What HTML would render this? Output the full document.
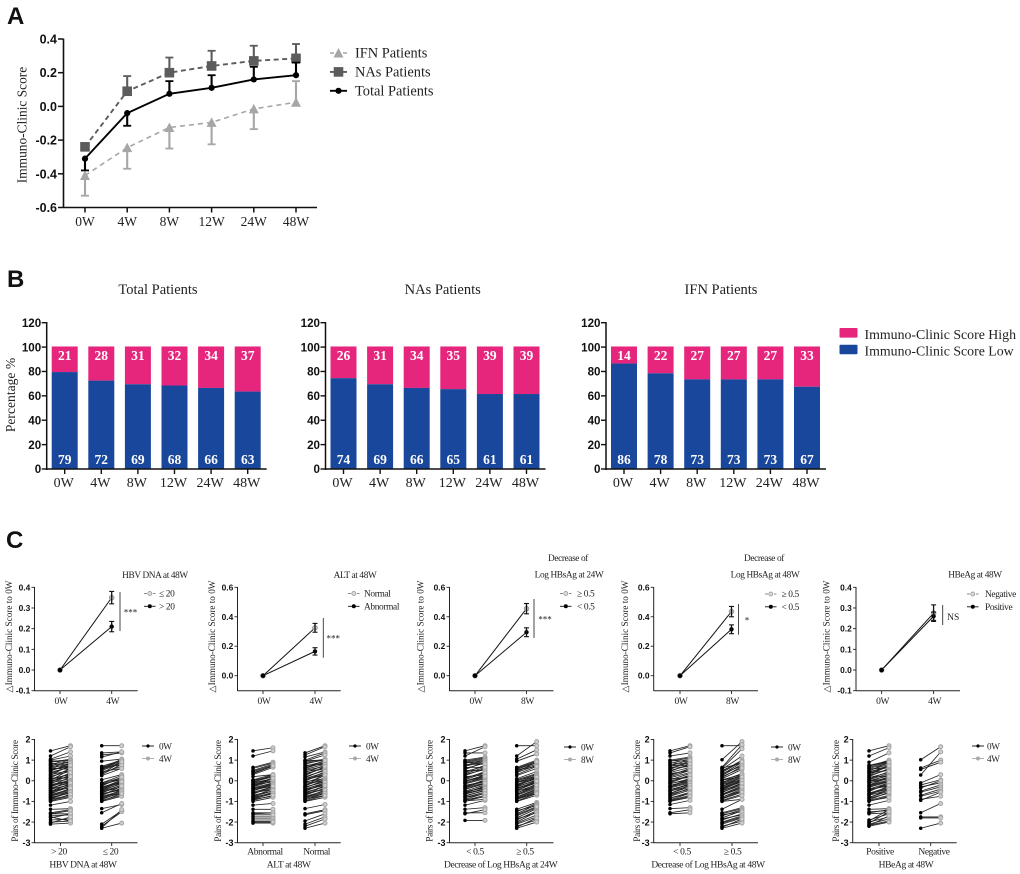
<!DOCTYPE html>
<html lang="en">
<head>
<meta charset="utf-8">
<title>Immuno-Clinic Score figure</title>
<style>
html,body{margin:0;padding:0;background:#fff;width:1020px;height:874px;overflow:hidden}
svg{display:block;filter:blur(0.35px)}
text{font-family:"Liberation Serif",serif;fill:#222}
.tick{font-family:"Liberation Sans",sans-serif;font-weight:bold;fill:#111}
.letter{font-family:"Liberation Sans",sans-serif;font-weight:bold;font-size:24px;fill:#111}
.tight{letter-spacing:-0.37px}
</style>
</head>
<body>
<svg id="fig" xmlns="http://www.w3.org/2000/svg" width="1020" height="874" viewBox="0 0 1020 874">
<text class="letter" x="7" y="24">A</text>
<text class="letter" x="7" y="287">B</text>
<text class="letter" x="6" y="548">C</text>
</svg>
<script>
// ---------- Panel A data ----------
const aWeeks = ['0W','4W','8W','12W','24W','48W'];
const aTicks = [0.4,0.2,0.0,-0.2,-0.4,-0.6];
const ifnMean = [-0.41,-0.245,-0.125,-0.095,-0.015,0.025];
const ifnLow = [-0.53,-0.37,-0.25,-0.225,-0.135,0.025];
const ifnHigh = [-0.41,-0.245,-0.125,-0.095,-0.015,0.15];
const nasMean = [-0.24,0.09,0.2,0.24,0.27,0.285];
const nasLow = [-0.24,0.09,0.2,0.24,0.27,0.285];
const nasHigh = [-0.24,0.18,0.29,0.33,0.36,0.37];
const totalMean = [-0.31,-0.04,0.075,0.11,0.16,0.185];
const totalLow = [-0.38,-0.115,0.075,0.11,0.16,0.185];
const totalHigh = [-0.31,-0.04,0.15,0.185,0.235,0.26];

// ---------- Panel B data ----------
const bWeeks = ['0W','4W','8W','12W','24W','48W'];
const bTicks = [120,100,80,60,40,20,0];
const totalLowPct = [79,72,69,68,66,63];
const totalHighPct = [21,28,31,32,34,37];
const nasLowPct = [74,69,66,65,61,61];
const nasHighPct = [26,31,34,35,39,39];
const ifnLowPct = [86,78,73,73,73,67];
const ifnHighPct = [14,22,27,27,27,33];

// ---------- Panel C change-score data ----------
const c1Ticks = [0.4,0.3,0.2,0.1,0.0,-0.1];
const c2Ticks = [0.6,0.4,0.2,0.0];
const c1Upper = [0,0.35];  const c1UpperErr = [0,0.03];
const c1Lower = [0,0.21];  const c1LowerErr = [0,0.025];
const c2Upper = [0,0.325]; const c2UpperErr = [0,0.03];
const c2Lower = [0,0.165]; const c2LowerErr = [0,0.025];
const c3Upper = [0,0.455]; const c3UpperErr = [0,0.035];
const c3Lower = [0,0.295]; const c3LowerErr = [0,0.03];
const c4Upper = [0,0.435]; const c4UpperErr = [0,0.035];
const c4Lower = [0,0.315]; const c4LowerErr = [0,0.03];
const c5Upper = [0,0.275]; const c5UpperErr = [0,0.04];
const c5Lower = [0,0.26];  const c5LowerErr = [0,0.02];

// ---------- Panel C paired data: [before, after] ----------
const pairTicks = [2,1,0,-1,-2,-3];
const p1a = [[1.45,1.7],[1.2,1.65],[1.05,1.4],[1,1.2],[.95,1],[.9,1.05],[.85,.75],[.8,1],[.72,.7],[.65,.95],[.6,.85],[.55,.7],[.5,.75],[.42,.65],[.35,.7],[.3,.5],[.22,.45],[.15,.6],[.1,.3],[.05,.35],[0,.2],[-.05,.25],[-.1,.1],[-.15,.3],[-.2,-.05],[-.25,.05],[-.3,.05],[-.35,-.1],[-.4,-.2],[-.45,.1],[-.5,-.15],[-.55,-.25],[-.6,-.3],[-.65,-.2],[-.7,-.45],[-.75,-.5],[-.8,-.6],[-.85,-.5],[-.9,-.7],[-.95,-.75],[-1,-.8],[-1.18,-1],[-1.38,-1.35],[-1.55,-1.4],[-1.6,-1.45],[-1.7,-1.65],[-1.8,-1.6],[-1.9,-1.85],[-2,-1.95],[-2.1,-2.05]];
const p1aMore = [[.98,.85],[.75,.9],[.62,.55],[.47,.85],[.27,.75],[.12,.15],[.02,.55],[-.08,.4],[-.18,.0],[-.28,.2],[-.38,-.05],[-.48,-.35],[-.58,-.1],[-.68,-.4],[-.78,-.35],[-.88,-.55],[-.98,-.65],[-1.6,-1.6],[-1.75,-1.95],[-2.05,-1.75]];
const p1b = [[1.7,1.7],[1.35,1.4],[1.25,1.35],[1.15,1.4],[.95,1.05],[.7,1],[.65,.95],[.6,1.05],[.55,.9],[.5,.85],[.4,.7],[.3,.8],[.25,.6],[.05,.3],[-.1,.25],[-.15,.05],[-.2,.1],[-.3,-.05],[-.35,.05],[-.4,0],[-.45,-.15],[-.5,-.1],[-.55,-.3],[-.6,-.2],[-.65,-.4],[-.7,-.35],[-.75,-.5],[-.8,-.55],[-.85,-.6],[-.95,-.7],[-1,-.75],[-1.35,-1.15],[-1.55,-1.1],[-2.1,-1.45],[-2.2,-1.5],[-2.3,-2.05],[-2.28,-1.4]];
const p1bMore = [[.68,.75],[.57,.98],[.45,.6],[.35,.92],[-.12,.15],[-.25,.18],[-.33,-.1],[-.42,-.05],[-.52,-.22],[-.62,-.45],[-.72,-.25],[-.82,-.45],[-.92,-.52],[-.98,-.62]];
const p2a = [[1.45,1.6],[1.2,1.45],[.65,.9],[.6,.85],[.45,.75],[.4,.7],[.3,.65],[.2,.3],[.05,.3],[0,.25],[-.05,.2],[-.1,.1],[-.15,.1],[-.2,-.05],[-.25,.15],[-.3,0],[-.35,-.1],[-.4,-.2],[-.45,-.25],[-.5,-.1],[-.55,-.3],[-.6,-.35],[-.7,-.5],[-.75,-.4],[-.8,-.6],[-.85,-.55],[-.9,-.75],[-1,-.8],[-1.18,-1.1],[-1.38,-1.38],[-1.55,-1.55],[-1.6,-1.55],[-1.75,-1.75],[-1.85,-1.85],[-1.95,-1.95],[-2.05,-2.05]];
const p2aMore = [[.5,.8],[.35,.72],[.03,.18],[-.08,.28],[-.18,.02],[-.28,.12],[-.38,-.15],[-.48,-.18],[-.58,-.42],[-.65,-.25],[-.78,-.48],[-.88,-.62],[-.95,-.7],[-1.65,-1.65],[-2,-2]];
const p2b = [[1.35,1.7],[1.25,1.65],[1.15,1.4],[1,1.35],[.95,1.25],[.9,1.05],[.85,1],[.8,1.05],[.7,.95],[.65,.85],[.6,.9],[.55,.8],[.5,.7],[.4,.75],[.35,.6],[.3,.65],[.2,.5],[.15,.55],[.1,.4],[.05,.3],[0,.35],[-.05,.1],[-.1,.25],[-.2,.05],[-.25,.15],[-.3,-.05],[-.35,.05],[-.4,-.1],[-.45,-.2],[-.5,-.15],[-.55,-.3],[-.6,-.25],[-.65,-.4],[-.7,-.35],[-.75,-.5],[-.8,-.55],[-.85,-.6],[-.9,-.7],[-1,-.8],[-1.35,-1.15],[-1.6,-1.4],[-1.65,-1.45],[-1.95,-1.6],[-2.1,-1.75],[-2.2,-1.85],[-2.3,-2.05]];
const p2bMore = [[.98,1],[.75,.8],[.62,.98],[.45,.58],[.25,.7],[.12,.22],[-.02,.45],[-.12,.02],[-.22,.28],[-.32,-.02],[-.42,-.22],[-.52,-.08],[-.62,-.42],[-.72,-.22],[-.82,-.45],[-.92,-.6],[-.97,-.72]];
const p3a = [[1.45,1.7],[1.35,1.35],[1.2,1.65],[1,1.15],[.95,1.1],[.9,1.05],[.85,1],[.75,1],[.7,.95],[.6,.85],[.55,.9],[.45,.7],[.4,.75],[.3,.55],[.25,.6],[.15,.4],[.1,.45],[0,.25],[-.05,.3],[-.1,.15],[-.15,.1],[-.25,0],[-.3,.05],[-.35,-.1],[-.4,-.15],[-.5,-.2],[-.55,-.3],[-.6,-.25],[-.65,-.4],[-.75,-.45],[-.8,-.55],[-.9,-.6],[-.95,-.7],[-1,-.75],[-1.18,-.95],[-1.38,-1.3],[-1.55,-1.55],[-1.6,-1.4],[-1.92,-1.92]];
const p3aMore = [[.92,.8],[.78,.82],[.65,.65],[.5,.5],[.35,.65],[.2,.28],[.05,.38],[-.02,.2],[-.12,.22],[-.22,-.05],[-.32,-.02],[-.42,-.12],[-.52,-.35],[-.62,-.38],[-.72,-.48],[-.82,-.62],[-.92,-.78],[-.98,-.9]];
const p3b = [[1.7,1.7],[1.2,1.9],[1.05,1.5],[.95,1.3],[.65,1],[.6,.95],[.55,.9],[.5,.8],[.4,.75],[.3,.7],[.25,.6],[.1,.45],[.05,.35],[0,.3],[-.05,.2],[-.1,.25],[-.2,.1],[-.25,.15],[-.3,.05],[-.35,-.05],[-.4,0],[-.45,-.1],[-.5,-.2],[-.6,-.15],[-.65,-.3],[-.7,-.35],[-.8,-.45],[-.85,-.5],[-.9,-.6],[-1,-.7],[-1.38,-1.05],[-1.5,-1.1],[-1.6,-1.15],[-1.7,-1.3],[-1.8,-1.35],[-1.9,-1.45],[-2,-1.5],[-2.1,-1.75],[-2.2,-1.9],[-2.3,-2]];
const p3bMore = [[.62,.85],[.52,.7],[.42,.92],[.02,.22],[-.08,.12],[-.18,.18],[-.28,.02],[-.38,-.08],[-.48,-.02],[-.58,-.25],[-.68,-.22],[-.78,-.4],[-.88,-.55],[-.98,-.62],[-1.45,-1.2],[-1.65,-1.25],[-1.85,-1.55],[-2.05,-1.65],[-2.25,-1.8]];
const p4a = [[1.45,1.7],[1.35,1.65],[1.2,1.35],[1,1.15],[.95,1.1],[.85,1.05],[.75,1],[.7,.85],[.6,.9],[.5,.75],[.4,.65],[.3,.55],[.25,.6],[.15,.4],[.05,.35],[0,.2],[-.1,.25],[-.15,.1],[-.25,.05],[-.3,-.05],[-.35,-.1],[-.45,-.15],[-.5,-.25],[-.6,-.3],[-.65,-.4],[-.75,-.45],[-.85,-.55],[-.95,-.7],[-1,-.8],[-1.15,-.95],[-1.35,-1.3],[-1.55,-1.4],[-1.6,-1.55]];
const p4aMore = [[.98,.95],[.88,.8],[.78,.72],[.65,.68],[.55,.98],[.45,.82],[.35,.48],[.2,.5],[.1,.15],[-.05,.28],[-.12,.02],[-.22,-.02],[-.32,.12],[-.42,-.2],[-.52,-.12],[-.62,-.22],[-.72,-.35],[-.82,-.62],[-.92,-.6],[-.98,-.75]];
const p4b = [[1.7,1.7],[1.02,1.9],[.65,1.75],[.6,1.55],[.55,1.2],[.45,1],[.4,.95],[.3,.9],[.25,.8],[.15,.7],[.1,.55],[.05,.3],[0,.35],[-.1,.25],[-.15,.2],[-.2,.15],[-.3,.1],[-.35,.05],[-.4,-.05],[-.45,0],[-.5,-.1],[-.55,-.2],[-.65,-.25],[-.7,-.35],[-.8,-.4],[-.85,-.5],[-.95,-.65],[-1,-.9],[-1.38,-.9],[-1.55,-1.3],[-1.6,-1.35],[-1.7,-1.4],[-1.8,-1.45],[-1.9,-1.6],[-2,-1.7],[-2.1,-1.8],[-2.2,-1.95],[-2.3,-2.05]];
const p4bMore = [[.62,.85],[.5,.92],[.35,.72],[.2,.62],[.02,.22],[-.08,.28],[-.18,.05],[-.28,.18],[-.38,.02],[-.48,-.15],[-.58,-.12],[-.68,-.3],[-.78,-.48],[-.88,-.55],[-.98,-.72],[-1.65,-1.5],[-1.85,-1.65],[-2.05,-1.75],[-2.25,-1.85]];
const p5a = [[1.45,1.7],[1.2,1.6],[.9,1.35],[.75,.95],[.7,1],[.65,.9],[.6,.85],[.5,.8],[.45,.65],[.4,.75],[.35,.7],[.25,.55],[.2,.6],[.15,.4],[.05,.35],[0,.25],[-.05,.3],[-.1,.1],[-.2,.15],[-.25,0],[-.3,-.05],[-.4,-.1],[-.45,-.2],[-.5,-.15],[-.6,-.3],[-.65,-.35],[-.7,-.45],[-.8,-.5],[-.85,-.6],[-.95,-.7],[-1,-.75],[-1.18,-.95],[-1.38,-1.35],[-1.55,-1.4],[-1.6,-1.55],[-1.9,-1.6],[-2,-1.75],[-2.1,-1.85],[-2.15,-1.95],[-2.2,-2]];
const p5aMore = [[.72,.92],[.58,.62],[.48,.9],[.38,.5],[.28,.72],[.18,.22],[.08,.45],[-.02,.12],[-.12,.2],[-.22,.05],[-.32,-.02],[-.42,-.25],[-.52,-.08],[-.62,-.4],[-.72,-.22],[-.82,-.42],[-.92,-.55],[-.98,-.8],[-1.5,-1.45],[-1.95,-1.4],[-2.05,-1.5],[-2.18,-1.7]];
const p5b = [[1.02,1.65],[.62,1],[.55,.9],[.28,1.4],[-.1,.3],[-.2,.05],[-.3,-.1],[-.35,0],[-.5,-.2],[-.55,-.3],[-.7,-.4],[-.75,-.5],[-.9,-.75],[-.95,-.55],[-1.55,-1.1],[-1.75,-1.75],[-1.8,-1.8],[-2.3,-2.05]];

// ---------- Layout (pixel geometry only) ----------
const svg = document.getElementById('fig');
const NS = 'http://www.w3.org/2000/svg';
function add(parent, tag, attrs, txt){
  const el = document.createElementNS(NS, tag);
  for (const k in attrs) el.setAttribute(k, attrs[k]);
  if (txt !== undefined) el.textContent = txt;
  parent.appendChild(el);
  return el;
}
function linear(d0, d1, r0, r1){ return v => r0 + (v - d0) * (r1 - r0) / (d1 - d0); }

// ---------- Panel A ----------
function drawA(){
  const g = add(svg,'g',{});
  
  
  const y = linear(-0.6,0.4,207.5,39);
  const x = i => 85 + i * 42.2;
  const yAxis = add(g,'line',{x1:63.5,x2:63.5,y1:38.5,y2:208,stroke:'#111','stroke-width':1.6});
  
  
  const xAxis = add(g,'line',{x1:63,x2:317,y1:207.5,y2:207.5,stroke:'#111','stroke-width':1.6});
  
  
  aTicks.forEach(t => {
    add(g,'line',{x1:58,x2:63,y1:y(t),y2:y(t),stroke:'#111','stroke-width':1.5});
    const lab = add(g,'text',{x:57,y:y(t)+4.5,'text-anchor':'end','font-size':12.5,class:'tick'},t.toFixed(1));
    
    
  });
  aWeeks.forEach((w,i) => {
    add(g,'line',{x1:x(i),x2:x(i),y1:207.5,y2:212.5,stroke:'#111','stroke-width':1.5});
    const lab = add(g,'text',{x:x(i),y:226,'text-anchor':'middle','font-size':13.5},w);
    
    
  });
  const title = add(g,'text',{x:0,y:0,'text-anchor':'middle','font-size':13.4,transform:'translate(26.5,125) rotate(-90)'},'Immuno-Clinic Score');
  
  

  const series = [
    {name:'ifn',mean:ifnMean,low:ifnLow,high:ifnHigh,col:'#a6a6a6',dash:'5 4',w:1.6,m:'tri'},
    {name:'nas',mean:nasMean,low:nasLow,high:nasHigh,col:'#5c5c5c',dash:'5 3.5',w:1.9,m:'sq'},
    {name:'total',mean:totalMean,low:totalLow,high:totalHigh,col:'#000',dash:'',w:1.9,m:'dot'}
  ];
  series.forEach(s => {
    const sg = add(g,'g',{});
    
    
    s.mean.forEach((v,i) => {
      add(sg,'line',{x1:x(i),x2:x(i),y1:y(s.low[i]),y2:y(s.high[i]),stroke:s.col,'stroke-width':2.1});
      if (s.high[i] > v) add(sg,'line',{x1:x(i)-4,x2:x(i)+4,y1:y(s.high[i]),y2:y(s.high[i]),stroke:s.col,'stroke-width':1.8});
      if (s.low[i] < v) add(sg,'line',{x1:x(i)-4,x2:x(i)+4,y1:y(s.low[i]),y2:y(s.low[i]),stroke:s.col,'stroke-width':1.8});
    });
    add(sg,'polyline',{points:s.mean.map((v,i)=>x(i)+','+y(v)).join(' '),fill:'none',stroke:s.col,'stroke-width':s.w,'stroke-dasharray':s.dash});
    s.mean.forEach((v,i) => aMarker(sg,s.m,x(i),y(v),s.col));
  });
  const legendNames = ['IFN Patients','NAs Patients','Total Patients'];
  series.forEach((s,i) => {
    const ly = 53 + i * 18.9;
    const lg = add(g,'g',{});
    
    
    add(lg,'line',{x1:330,x2:347,y1:ly,y2:ly,stroke:s.col,'stroke-width':s.w,'stroke-dasharray':s.dash?'4 2.5':''});
    aMarker(lg,s.m,338.5,ly,s.col);
    add(lg,'text',{x:355,y:ly+4.6,'font-size':14.4,fill:'#333'},legendNames[i]);
  });
}
function aMarker(p,m,cx,cy,c){
  if (m==='tri') add(p,'polygon',{points:(cx-5)+','+(cy+4.5)+' '+(cx+5)+','+(cy+4.5)+' '+cx+','+(cy-5),fill:c});
  else if (m==='sq') add(p,'rect',{x:cx-4.8,y:cy-4.8,width:9.6,height:9.6,fill:c});
  else add(p,'circle',{cx:cx,cy:cy,r:3.1,fill:c});
}
drawA();

// ---------- Panel B ----------
function drawB(name, title, titleX, axisX, low, high){
  const g = add(svg,'g',{});
  
  
  const y = linear(0,120,469,322.7);
  const barW = 26, step = 36.6, first = axisX + 5;
  const t = add(g,'text',{x:titleX,y:294,'text-anchor':'middle','font-size':14.5,fill:'#333'},title);
  
  
  low.forEach((v,i) => {
    const bx = first + i * step;
    const top = add(g,'rect',{x:bx,y:y(100.5),width:barW,height:y(v+0.5)-y(100.5),fill:'#e6257c'});
    
    
    const bot = add(g,'rect',{x:bx,y:y(v+0.5),width:barW,height:y(0)-y(v+0.5),fill:'#19479c'});
    
    
    const hl = add(g,'text',{x:bx+barW/2,y:360,'text-anchor':'middle','font-size':13.5,'font-weight':'bold',style:'fill:#fff'},high[i]);
    
    
    const ll = add(g,'text',{x:bx+barW/2,y:464,'text-anchor':'middle','font-size':13.5,'font-weight':'bold',style:'fill:#fff'},v);
    
    
    add(g,'line',{x1:bx+barW/2,x2:bx+barW/2,y1:469,y2:474,stroke:'#111','stroke-width':1.4});
    const xl = add(g,'text',{x:bx+barW/2-1,y:487,'text-anchor':'middle','font-size':14},bWeeks[i]);
    
    
  });
  const ya = add(g,'line',{x1:axisX,x2:axisX,y1:322,y2:470,stroke:'#111','stroke-width':1.5});
  
  
  const xa = add(g,'line',{x1:axisX,x2:axisX+220,y1:469,y2:469,stroke:'#111','stroke-width':1.5});
  
  
  bTicks.forEach(v => {
    add(g,'line',{x1:axisX-5,x2:axisX,y1:y(v),y2:y(v),stroke:'#111','stroke-width':1.4});
    const l = add(g,'text',{x:axisX-5.5,y:y(v)+4.2,'text-anchor':'end','font-size':11.6,class:'tick'},v);
    
    
  });
}
drawB('total-patients-bar-chart','Total Patients',158,46.7,totalLowPct,totalHighPct);
drawB('nas-patients-bar-chart','NAs Patients',442.7,325.5,nasLowPct,nasHighPct);
drawB('ifn-patients-bar-chart','IFN Patients',721,606,ifnLowPct,ifnHighPct);
const bTitle = add(svg,'text',{x:0,y:0,'text-anchor':'middle','font-size':13.6,fill:'#333',transform:'translate(15,395) rotate(-90)'},'Percentage %');


const bLegendLabels = ['Immuno-Clinic Score High','Immuno-Clinic Score Low'];
const bLegendColors = ['#e6257c','#19479c'];
bLegendLabels.forEach((lab,i) => {
  const ly = 328 + i * 16.7;
  const lg = add(svg,'g',{});
  
  
  add(lg,'rect',{x:839.5,y:ly,width:18,height:9.6,rx:1,fill:bLegendColors[i]});
  add(lg,'text',{x:864.5,y:ly+11,'font-size':13.85,fill:'#333'},lab);
});

// ---------- Panel C change charts ----------
function drawChange(c){
  const g = add(svg,'g',{});
  
  
  const y = c.yMax===0.4 ? linear(-0.1,0.4,690.7,587.3) : linear(0,0.6,675.7,587.3);
  const xs = [c.x0,c.x1];
  const ya = add(g,'line',{x1:c.ax,x2:c.ax,y1:587,y2:691,stroke:'#222','stroke-width':1});
  
  
  const xa = add(g,'line',{x1:c.ax,x2:c.end,y1:690.7,y2:690.7,stroke:'#222','stroke-width':1});
  
  
  c.ticks.forEach(t => {
    add(g,'line',{x1:c.ax-3,x2:c.ax,y1:y(t),y2:y(t),stroke:'#222','stroke-width':.9});
    const l = add(g,'text',{x:c.ax-4.2,y:y(t)+3,'text-anchor':'end','font-size':8.4,class:'tick'},t.toFixed(1));
    
    
  });
  c.labels.forEach((lab,i) => {
    add(g,'line',{x1:xs[i],x2:xs[i],y1:690.7,y2:694,stroke:'#222','stroke-width':.9});
    const l = add(g,'text',{x:xs[i]+1,y:704,'text-anchor':'middle','font-size':9.5,fill:'#333',class:'tight'},lab);
    
    
  });
  const yt = add(g,'text',{x:0,y:0,'text-anchor':'middle','font-size':9.2,fill:'#444',transform:'translate('+(c.titleX+3)+',636.5) rotate(-90)'},'△Immuno-Clinic Score to 0W');
  
  
  c.title.forEach(item => {
    const tt = add(g,'text',{x:item[1],y:item[2],'text-anchor':'middle','font-size':9.3,fill:'#333',class:'tight'},item[0]);
    
    
  });
  add(g,'polyline',{points:xs.map((px,i)=>px+','+y(c.upper[i])).join(' '),fill:'none',stroke:'#111','stroke-width':1});
  add(g,'polyline',{points:xs.map((px,i)=>px+','+y(c.lower[i])).join(' '),fill:'none',stroke:'#111','stroke-width':1});
  [[c.upper,c.upperErr,'upper'],[c.lower,c.lowerErr,'lower']].forEach(s => {
    s[0].forEach((v,i) => {
      const isUpper = s[2]==='upper';
      const pt = add(g,'circle',{cx:xs[i],cy:y(v),r:isUpper?2.4:2.2,fill:isUpper?'#bbb':'#000',stroke:isUpper?'#888':'none','stroke-width':.7});
      
      
      if (s[1][i] > 0) {
        add(g,'line',{x1:xs[i],x2:xs[i],y1:y(v-s[1][i]),y2:y(v+s[1][i]),stroke:'#111','stroke-width':1.3});
        add(g,'line',{x1:xs[i]-2.5,x2:xs[i]+2.5,y1:y(v-s[1][i]),y2:y(v-s[1][i]),stroke:'#111','stroke-width':1.1});
        add(g,'line',{x1:xs[i]-2.5,x2:xs[i]+2.5,y1:y(v+s[1][i]),y2:y(v+s[1][i]),stroke:'#111','stroke-width':1.1});
      }
    });
  });
  add(g,'circle',{cx:xs[0],cy:y(0),r:2.2,fill:'#000'});
  const br = add(g,'line',{x1:c.sigX,x2:c.sigX,y1:c.sigTop,y2:c.sigBot,stroke:'#333','stroke-width':.9});
  
  
  const st = add(g,'text',{x:c.sigX+c.sigDx,y:c.sigTxtY,'text-anchor':'middle','font-size':c.sig==='NS'?9.5:9,fill:'#333'},c.sig);
  
  
  c.legend.forEach((lab,i) => {
    const ly = c.legY + i * 12.8;
    const lg = add(g,'g',{});
    
    
    add(lg,'line',{x1:c.legX,x2:c.legX+11.5,y1:ly,y2:ly,stroke:i?'#111':'#888','stroke-width':.9,'stroke-dasharray':i?'':'3 1.5'});
    add(lg,'circle',{cx:c.legX+5.8,cy:ly,r:2,fill:i?'#000':'#ddd',stroke:i?'none':'#888','stroke-width':.7});
    add(lg,'text',{x:c.legX+c.legDx,y:ly+3.2,'font-size':9.4,fill:'#333',class:'tight'},lab);
  });
}
drawChange({name:'change-chart-hbv-dna',ax:34.5,end:137.7,x0:60,x1:111.7,ticks:c1Ticks,yMax:0.4,labels:['0W','4W'],titleX:9,
  title:[['HBV DNA at 48W',155,578]],upper:c1Upper,upperErr:c1UpperErr,lower:c1Lower,lowerErr:c1LowerErr,
  sigX:120,sigTop:592,sigBot:631,sigDx:10.5,sigTxtY:615.5,sig:'***',legend:['≤ 20','> 20'],legX:144,legDx:15,legY:593.5});
drawChange({name:'change-chart-alt',ax:237.5,end:340.7,x0:263,x1:315,ticks:c2Ticks,yMax:0.6,labels:['0W','4W'],titleX:212,
  title:[['ALT at 48W',355,578]],upper:c2Upper,upperErr:c2UpperErr,lower:c2Lower,lowerErr:c2LowerErr,
  sigX:323.3,sigTop:618,sigBot:657.7,sigDx:10,sigTxtY:641.5,sig:'***',legend:['Normal','Abnormal'],legX:348,legDx:16,legY:593.5});
drawChange({name:'change-chart-hbsag-24w',ax:449.5,end:553.5,x0:475,x1:526.5,ticks:c2Ticks,yMax:0.6,labels:['0W','8W'],titleX:420.5,
  title:[['Decrease of',568,561],['Log HBsAg at 24W',569,577.5]],upper:c3Upper,upperErr:c3UpperErr,lower:c3Lower,lowerErr:c3LowerErr,
  sigX:534,sigTop:599,sigBot:638,sigDx:11,sigTxtY:622.5,sig:'***',legend:['≥ 0.5','< 0.5'],legX:560,legDx:17,legY:593.5});
drawChange({name:'change-chart-hbsag-48w',ax:653.7,end:758,x0:680,x1:731.5,ticks:c2Ticks,yMax:0.6,labels:['0W','8W'],titleX:625,
  title:[['Decrease of',764,561],['Log HBsAg at 48W',765,577.5]],upper:c4Upper,upperErr:c4UpperErr,lower:c4Lower,lowerErr:c4LowerErr,
  sigX:738.5,sigTop:604,sigBot:634.7,sigDx:8.5,sigTxtY:623.5,sig:'*',legend:['≥ 0.5','< 0.5'],legX:765,legDx:16.5,legY:594});
drawChange({name:'change-chart-hbeag',ax:856,end:960,x0:881.6,x1:933.6,ticks:c1Ticks,yMax:0.4,labels:['0W','4W'],titleX:826.5,
  title:[['HBeAg at 48W',975,577.5]],upper:c5Upper,upperErr:c5UpperErr,lower:c5Lower,lowerErr:c5LowerErr,
  sigX:942.7,sigTop:605,sigBot:625,sigDx:10.5,sigTxtY:620,sig:'NS',legend:['Negative','Positive'],legX:967,legDx:18,legY:594});

// ---------- Panel C paired charts ----------
function drawPairs(c){
  const g = add(svg,'g',{});
  
  
  const y = linear(-3,2,842.7,739.5);
  const ya = add(g,'line',{x1:c.ax,x2:c.ax,y1:739,y2:843,stroke:'#222','stroke-width':1});
  
  
  const xa = add(g,'line',{x1:c.ax,x2:c.end,y1:842.7,y2:842.7,stroke:'#222','stroke-width':1});
  
  
  pairTicks.forEach(t => {
    add(g,'line',{x1:c.ax-3,x2:c.ax,y1:y(t),y2:y(t),stroke:'#222','stroke-width':.9});
    const l = add(g,'text',{x:c.ax-4,y:y(t)+3.2,'text-anchor':'end','font-size':9,class:'tick'},t);
    
    
  });
  [[c.groupA,c.xa,c.labA,c.labAx],[c.groupB,c.xb,c.labB,c.labBx]].forEach(gr => {
    const [pairs,xl,lab,labX] = gr;
    const xr = xl + 20;
    const gg = add(g,'g',{});
    
    
    pairs.forEach(p => add(gg,'line',{x1:xl,x2:xr,y1:y(p[0]),y2:y(p[1]),stroke:'#222','stroke-width':.85}));
    pairs.forEach(p => add(gg,'circle',{cx:xr,cy:y(p[1]),r:2,fill:'#cfcfcf',stroke:'#a5a5a5','stroke-width':1}));
    pairs.forEach(p => add(gg,'circle',{cx:xl,cy:y(p[0]),r:1.75,fill:'#000'}));
    add(g,'line',{x1:xl+10,x2:xl+10,y1:842.7,y2:846,stroke:'#222','stroke-width':.9});
    const tl = add(g,'text',{x:labX,y:854.5,'text-anchor':'middle','font-size':9.5,fill:'#333',class:'tight'},lab);
    
    
  });
  const yt = add(g,'text',{x:0,y:0,'text-anchor':'middle','font-size':9.3,fill:'#444',class:'tight',transform:'translate('+(c.titleX+3)+',791) rotate(-90)'},'Pairs of Immuno-Clinic Score');
  
  
  const xt = add(g,'text',{x:c.xTitleX,y:867.5,'text-anchor':'middle','font-size':9.5,fill:'#333',class:'tight'},c.xTitle);
  
  
  c.legend.forEach((lab,i) => {
    const ly = c.legY + i * 12.5;
    const lg = add(g,'g',{});
    
    
    add(lg,'line',{x1:c.legX,x2:c.legX+12,y1:ly,y2:ly,stroke:i?'#aaa':'#111','stroke-width':.9});
    add(lg,'circle',{cx:c.legX+6,cy:ly,r:i?2:1.6,fill:i?'#aaa':'#000'});
    add(lg,'text',{x:c.legX+c.legDx,y:ly+3.3,'font-size':9.2,fill:'#333',class:'tight'},lab);
  });
}
drawPairs({name:'pairs-chart-hbv-dna',ax:34.5,end:137.5,xa:50.5,xb:101.7,groupA:p1a.concat(p1aMore),groupB:p1b.concat(p1bMore),labA:'> 20',labB:'≤ 20',labAx:59,labBx:110.5,titleX:15,xTitle:'HBV DNA at 48W',xTitleX:83,legend:['0W','4W'],legX:142,legDx:17,legY:746});
drawPairs({name:'pairs-chart-alt',ax:237.5,end:340.7,xa:253,xb:305,groupA:p2a.concat(p2aMore),groupB:p2b.concat(p2bMore),labA:'Abnormal',labB:'Normal',labAx:265,labBx:316.7,titleX:218,xTitle:'ALT at 48W',xTitleX:288.7,legend:['0W','4W'],legX:349,legDx:17,legY:746});
drawPairs({name:'pairs-chart-hbsag-24w',ax:449.5,end:553.5,xa:465,xb:516.7,groupA:p3a.concat(p3aMore),groupB:p3b.concat(p3bMore),labA:'< 0.5',labB:'≥ 0.5',labAx:475,labBx:525,titleX:429.5,xTitle:'Decrease of Log HBsAg at 24W',xTitleX:500.7,legend:['0W','8W'],legX:564,legDx:17,legY:747});
drawPairs({name:'pairs-chart-hbsag-48w',ax:653.7,end:758,xa:670,xb:722,groupA:p4a.concat(p4aMore),groupB:p4b.concat(p4bMore),labA:'< 0.5',labB:'≥ 0.5',labAx:682,labBx:732.6,titleX:637,xTitle:'Decrease of Log HBsAg at 48W',xTitleX:708,legend:['0W','8W'],legX:771,legDx:17,legY:747});
drawPairs({name:'pairs-chart-hbeag',ax:852.7,end:956.7,xa:869,xb:920.7,groupA:p5a.concat(p5aMore),groupB:p5b,labA:'Positive',labB:'Negative',labAx:880,labBx:934,titleX:836,xTitle:'HBeAg at 48W',xTitleX:906,legend:['0W','4W'],legX:972,legDx:15,legY:746});
</script>
</body>
</html>
